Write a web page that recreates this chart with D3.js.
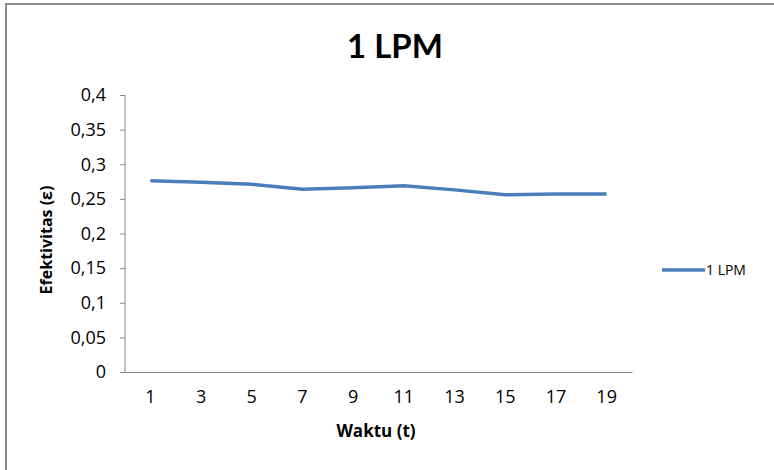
<!DOCTYPE html>
<html>
<head>
<meta charset="utf-8">
<script src="https://cdn.jsdelivr.net/npm/d3@7"></script>
<style>
  body { margin: 0; background: #fff; }
  text { font-family: "Open Sans", Lato, sans-serif; fill: #000; }
</style>
</head>
<body>
<div id="chart"></div>
<script>
var width = 774,
    height = 470;

// data
var waktu = ["1", "3", "5", "7", "9", "11", "13", "15", "17", "19"];
var efektivitas = [0.276, 0.274, 0.271, 0.264, 0.266, 0.269, 0.263, 0.256, 0.257, 0.257];
var yTicks = [0, 0.05, 0.1, 0.15, 0.2, 0.25, 0.3, 0.35, 0.4];
var seriesName = "1 LPM";

var plot = {left: 125, right: 632, top: 95, bottom: 372};

var svg = d3.select("#chart")
    .append("svg")
    .attr("width", width)
    .attr("height", height);

// chart border
svg.append("rect")
    .attr("x", 6).attr("y", 4)
    .attr("width", width + 10).attr("height", height + 10)
    .attr("fill", "#fff")
    .attr("stroke", "#8c8c8c")
    .attr("stroke-width", 2);

var x = d3.scaleBand()
    .domain(waktu)
    .range([plot.left, plot.right]);

var y = d3.scaleLinear()
    .domain([0, 0.4])
    .range([plot.bottom, plot.top]);

var fmt = function(d) { return String(+d.toFixed(2)).replace(".", ","); };

// y axis
var yAxis = svg.append("g")
    .attr("transform", "translate(" + plot.left + ",0)")
    .attr("font-size", 18)
    .call(d3.axisLeft(y).tickValues(yTicks).tickSize(5).tickPadding(14).tickFormat(fmt));
yAxis.attr("font-size", 18).attr("font-family", null);
yAxis.select(".domain").attr("stroke", "#888").attr("d", "M0," + plot.top + "V" + plot.bottom);
yAxis.selectAll(".tick line").attr("stroke", "#888");
yAxis.selectAll(".tick text").attr("fill", "#000");

// x axis
var xAxis = svg.append("g")
    .attr("transform", "translate(0," + plot.bottom + ")")
    .call(d3.axisBottom(x).tickSize(0).tickPadding(18));
xAxis.attr("font-size", 18).attr("font-family", null);
xAxis.select(".domain").attr("stroke", "#888");
xAxis.selectAll(".tick text").attr("fill", "#000");

// line
var line = d3.line()
    .x(function(d, i) { return x(waktu[i]) + x.bandwidth() / 2; })
    .y(function(d) { return y(d); });

svg.append("path")
    .datum(efektivitas)
    .attr("fill", "none")
    .attr("stroke", "#4a7ebb")
    .attr("stroke-width", 3.5)
    .attr("stroke-linejoin", "round")
    .attr("d", line);

// title
svg.append("text")
    .attr("x", 395).attr("y", 58)
    .attr("text-anchor", "middle")
    .style("font-family", "Lato, sans-serif")
    .style("font-size", "33px")
    .style("font-weight", "bold")
    .text(seriesName);

// axis titles
svg.append("text")
    .attr("x", 376).attr("y", 437)
    .attr("text-anchor", "middle")
    .style("font-size", "17px")
    .style("font-weight", "bold")
    .text("Waktu (t)");

svg.append("text")
    .attr("transform", "translate(52,240) rotate(-90)")
    .attr("text-anchor", "middle")
    .style("font-size", "16px")
    .style("font-weight", "bold")
    .text("Efektivitas (ε)");

// legend
var legend = svg.append("g").attr("transform", "translate(662,270)");
legend.append("line")
    .attr("x1", 0).attr("x2", 43)
    .attr("stroke", "#4a7ebb")
    .attr("stroke-width", 3.5);
legend.append("text")
    .attr("x", 44).attr("y", 5)
    .style("font-size", "14px")
    .text(seriesName);
</script>
</body>
</html>
